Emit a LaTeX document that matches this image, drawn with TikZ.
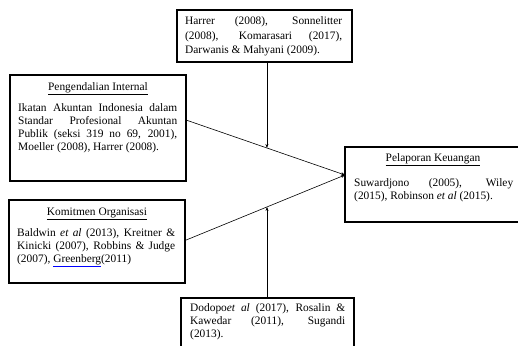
\documentclass[tikz,border=0pt]{standalone}
\usepackage{fontspec}
\setmainfont{Liberation Serif}
\usetikzlibrary{arrows.meta,calc}
\tolerance=10000
\emergencystretch=20pt
\begin{document}
\begin{tikzpicture}[x=1pt,y=-1pt,
  boxnode/.style={draw, line width=1.3pt, anchor=north west, inner sep=0pt, outer sep=0pt},
  txt/.style={anchor=base west, inner sep=0pt, align=justify, font=\fontsize{11.4}{13.3}\selectfont},
  ttl/.style={anchor=base, inner sep=0pt, font=\fontsize{11.4}{13.3}\selectfont},
  link/.style={line width=0.6pt, -{Stealth[length=4pt,width=3pt]}}]
\useasboundingbox (0,0) rectangle (518,345);
% boxes
\node[boxnode, minimum width=175pt, minimum height=52pt] (top) at (177,10) {};
\node[boxnode, minimum width=176pt, minimum height=106pt] (pi) at (10,75) {};
\node[boxnode, minimum width=176pt, minimum height=83pt] (pk) at (9,200) {};
\node[boxnode, minimum width=176pt, minimum height=75pt] (pel) at (345,147) {};
\node[boxnode, minimum width=173pt, minimum height=60pt] (bot) at (181,298) {};
% texts
\node[txt, text width=157pt, font=\fontsize{11.4}{14.5}\selectfont] (ttop) at (185,24.5)
  {Harrer (2008), Sonnelitter\linebreak (2008), Komarasari (2017),\linebreak Darwanis \& Mahyani (2009).};
\node[ttl] (hpi) at (98,90) {\underline{Pengendalian Internal}};
\node[txt, text width=159pt] (tpi) at (18,111)
  {Ikatan Akuntan Indonesia dalam\linebreak Standar Profesional Akuntan\linebreak Publik (seksi 319 no 69, 2001),\linebreak Moeller (2008), Harrer (2008).};
\node[ttl] (hpk) at (97,215) {\underline{Komitmen Organisasi}};
\node[txt, text width=158pt] (tpk) at (17,236)
  {Baldwin \textit{et al} (2013), Kreitner \&\linebreak Kinicki (2007), Robbins \& Judge\linebreak (2007), \textcolor{blue}{\underline{\textcolor{black}{Greenberg}}}(2011)};
\node[ttl] (hpel) at (433,161) {\underline{Pelaporan Keuangan}};
\node[txt, text width=159pt] (tpel) at (354,186)
  {Suwardjono (2005), Wiley\linebreak (2015), Robinson \textit{et al} (2015).};
\node[txt, text width=155pt] (tbot) at (190,311)
  {Dodopo\textit{et al} (2017), Rosalin \&\linebreak Kawedar (2011), Sugandi\linebreak (2013).};
% connectors
\coordinate (s1) at ([yshift=8pt]pi.east);
\coordinate (s2) at ([yshift=1pt]pk.east);
\coordinate (e) at ([yshift=9.5pt]pel.west);
\draw[link] (s1) -- (e);
\draw[link] (s2) -- (e);
\coordinate (m1) at ($(s1)!0.509!(e)$);
\coordinate (m2) at ($(s2)!0.5125!(e)$);
\draw[link] (m1 |- top.south) -- (m1);
\draw[link] (m2 |- bot.north) -- (m2);
\end{tikzpicture}
\end{document}
